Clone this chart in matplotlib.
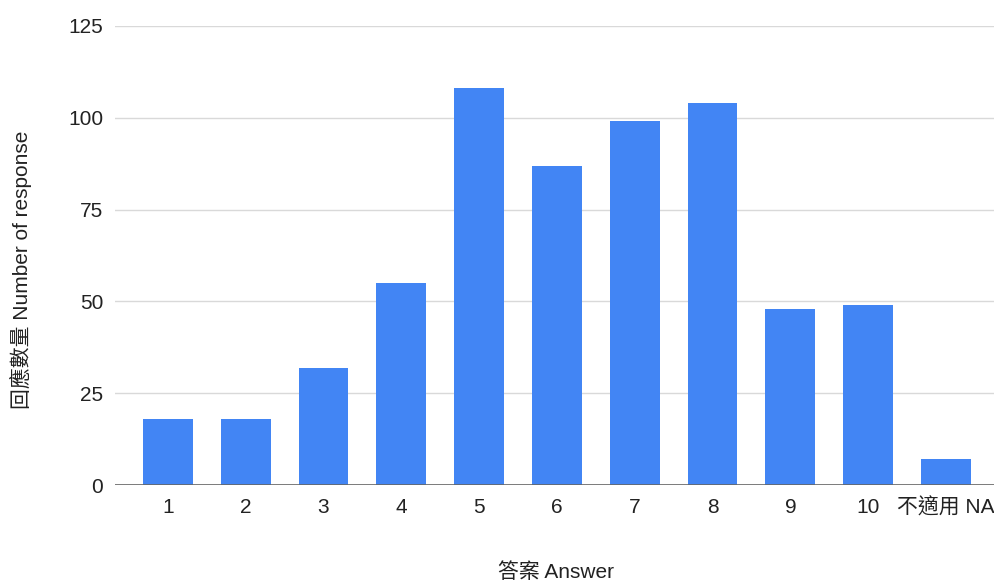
import matplotlib
matplotlib.use("Agg")
import matplotlib.pyplot as plt

plt.rcParams["font.family"] = ["Liberation Sans", "Noto Sans CJK TC", "DejaVu Sans"]

categories = ["1", "2", "3", "4", "5", "6", "7", "8", "9", "10", "不適用 NA"]
counts = [18, 18, 32, 55, 108, 87, 99, 104, 48, 49, 7]
y_ticks = [0, 25, 50, 75, 100, 125]

BAR_COLOR = "#4285F4"
FS = 15

fig = plt.figure(figsize=(9.95, 5.84), dpi=100)
ax = fig.add_axes([0.1156, 0.1695, 0.8844, 0.786])

x = range(len(categories))
ax.bar(x, counts, width=0.64, color=BAR_COLOR, zorder=3)

ax.set_xlim(-0.68, len(categories) - 1 + 0.63)
ax.set_ylim(0, 125)
ax.set_yticks(y_ticks)
ax.set_xticks(list(x))
ax.set_xticklabels(categories)

ax.grid(axis="y", color="#d9d9d9", lw=1, zorder=0)
ax.grid(axis="x", visible=False)
ax.axhline(0, color="#666666", lw=1.2, zorder=4)

for side in ["top", "right", "left", "bottom"]:
    ax.spines[side].set_visible(False)
ax.tick_params(axis="both", length=0, labelsize=FS, colors="#222222")
ax.tick_params(axis="x", pad=9)
ax.tick_params(axis="y", pad=8.5)

fig.text(0.559, 0.0205, "答案 Answer", ha="center", va="center", fontsize=FS, color="#222222")
fig.text(0.021, 0.538, "回應數量 Number of response", ha="center", va="center",
         rotation=90, fontsize=FS, color="#222222")

fig.savefig("out.png", dpi=100)
